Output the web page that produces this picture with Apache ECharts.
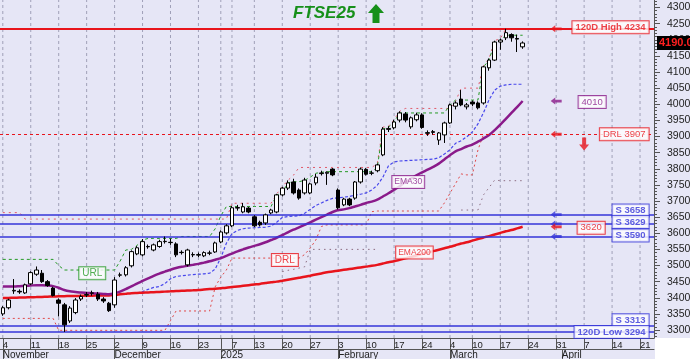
<!DOCTYPE html>
<html>
<head>
<meta charset="utf-8">
<script src="https://cdn.jsdelivr.net/npm/echarts@6.0.0/dist/echarts.min.js"></script>
<style>
html,body{margin:0;padding:0;background:#ffffff;}
#chart{width:690px;height:359px;}
</style>
</head>
<body>
<div id="chart"></div>
<script>
// ---------------- DATA ----------------
const dates = [
'2024-11-04','2024-11-05','2024-11-06','2024-11-07','2024-11-08',
'2024-11-11','2024-11-12','2024-11-13','2024-11-14','2024-11-15',
'2024-11-18','2024-11-19','2024-11-20','2024-11-21','2024-11-22',
'2024-11-25','2024-11-26','2024-11-27','2024-11-28','2024-11-29',
'2024-12-02','2024-12-03','2024-12-04','2024-12-05','2024-12-06',
'2024-12-09','2024-12-10','2024-12-11','2024-12-12','2024-12-13',
'2024-12-16','2024-12-17','2024-12-18','2024-12-19','2024-12-20',
'2024-12-23','2024-12-24','2024-12-27','2024-12-30',
'2025-01-02','2025-01-03',
'2025-01-07','2025-01-08','2025-01-09','2025-01-10',
'2025-01-13','2025-01-14','2025-01-15','2025-01-16','2025-01-17',
'2025-01-20','2025-01-21','2025-01-22','2025-01-23','2025-01-24',
'2025-01-27','2025-01-28','2025-01-29','2025-01-30','2025-01-31',
'2025-02-03','2025-02-04','2025-02-05','2025-02-06','2025-02-07',
'2025-02-10','2025-02-11','2025-02-12','2025-02-13','2025-02-14',
'2025-02-17','2025-02-18','2025-02-19','2025-02-20','2025-02-21',
'2025-02-24','2025-02-25','2025-02-26','2025-02-27','2025-02-28',
'2025-03-04','2025-03-05','2025-03-06','2025-03-07',
'2025-03-10','2025-03-11','2025-03-12','2025-03-13','2025-03-14',
'2025-03-17','2025-03-18','2025-03-19','2025-03-20','2025-03-21',
'2025-03-24','2025-03-25','2025-03-26','2025-03-27','2025-03-28',
'2025-03-31',
'2025-04-01','2025-04-02','2025-04-03','2025-04-04',
'2025-04-07','2025-04-08','2025-04-09','2025-04-10','2025-04-11',
'2025-04-14','2025-04-15','2025-04-16','2025-04-17','2025-04-18',
'2025-04-21','2025-04-22','2025-04-23'
];

// [open, close, low, high]
const ohlc = [
[3350,3369,3344,3374],[3369,3393,3364,3397],[3421,3423,3412,3458],[3420,3418,3412,3426],[3415,3440,3412,3444],
[3443,3478,3439,3482],[3473,3486,3468,3497],[3476,3450,3446,3486],[3450,3438,3434,3455],[3430,3407,3404,3434],
[3393,3383,3342,3398],[3378,3316,3294,3384],[3328,3368,3322,3374],[3354,3393,3349,3399],[3396,3404,3390,3410],
[3408,3410,3402,3418],[3415,3414,3406,3422],[3411,3396,3390,3418],[3396,3390,3384,3402],[3383,3360,3356,3387],
[3378,3455,3369,3464],[3470,3471,3464,3478],[3471,3493,3466,3498],[3499,3543,3494,3547],[3536,3555,3532,3560],
[3533,3574,3528,3582],[3559,3558,3552,3565],[3548,3564,3544,3568],[3559,3574,3555,3580],[3574,3575,3568,3590],
[3572,3571,3564,3584],[3567,3533,3526,3572],[3541,3540,3534,3547],[3502,3548,3497,3552],[3534,3533,3526,3541],
[3532,3534,3526,3540],[3530,3540,3526,3544],[3538,3539,3532,3546],[3542,3570,3539,3574],
[3573,3604,3569,3609],[3601,3623,3596,3628],
[3623,3679,3619,3684],[3678,3680,3670,3688],[3666,3682,3662,3694],[3678,3666,3662,3682],
[3651,3623,3619,3656],[3634,3626,3621,3639],[3632,3657,3626,3661],[3663,3672,3659,3676],[3666,3719,3662,3722],
[3719,3740,3714,3744],[3740,3756,3734,3764],[3759,3725,3720,3769],[3734,3709,3704,3739],[3725,3765,3720,3772],
[3725,3753,3721,3757],[3756,3774,3749,3784],[3785,3787,3779,3794],[3786,3789,3750,3792],[3799,3781,3777,3802],
[3734,3679,3674,3739],[3688,3706,3684,3710],[3706,3688,3684,3710],[3709,3759,3704,3762],[3759,3799,3754,3804],
[3798,3783,3779,3802],[3786,3787,3780,3794],[3794,3812,3789,3816],[3843,3923,3839,3929],[3922,3925,3914,3932],
[3927,3945,3922,3952],[3951,3973,3944,3978],[3970,3951,3944,3976],[3930,3958,3924,3962],[3952,3967,3947,3974],
[3967,3928,3924,3972],[3912,3910,3902,3919],[3915,3913,3906,3920],[3889,3911,3874,3914],[3905,3942,3880,3946],
[3942,3998,3939,4002],[3994,4004,3984,4009],[4016,3998,3994,4044],[3992,3998,3984,4004],
[4007,4001,3994,4012],[4004,3989,3984,4009],[4004,4116,3999,4119],[4113,4137,4104,4142],[4137,4193,4134,4197],
[4193,4199,4169,4204],[4206,4222,4199,4234],[4216,4206,4194,4220],[4204,4202,4162,4216],[4178,4190,4172,4195]
];

const ema200 = [
3399,3399.5,3400,3400.5,3401,3401.5,3402,3402.6,3403.2,3403.8,
3404.3,3404.8,3405.3,3405.6,3405.9,3406.2,3406.5,3406.7,3406.9,3407.2,
3408.8,3410.5,3412.2,3414,3414.8,3415.6,3416.4,3417.2,3418,3419,
3419.8,3420.6,3421.4,3422.2,3423,3424,3425.4,3426.8,3428.2,3429.6,
3431,3433,3435,3437,3439,3441,3443,3445.5,3448,3450,
3453,3456,3459,3462,3465,3468.5,3472,3475.5,3479,3481.5,
3484,3486.5,3489,3491.5,3494,3496.5,3499,3502,3506,3510,
3513,3517.5,3522,3526.5,3531,3535.5,3540,3544.5,3549,3553.5,
3558,3563,3568,3572,3577,3582,3587,3591,3596,3601,
3606,3610,3615,3620
];

const ema30 = [
3435,3435,3435,3436,3437,3438,3439,3439,3438,3436,
3431,3424,3420,3418,3416,3415,3414,3413,3412,3411,
3414,3419,3427,3435,3444,3452,3460,3468,3475,3481,
3487,3492,3496,3499,3502,3505,3509,3513,3518,3523,
3530,3537,3544,3550,3556,3561,3566,3572,3579,3586,
3594,3603,3611,3618,3626,3634,3642,3650,3658,3666,
3672,3674,3678,3683,3688,3694,3698,3704,3714,3724,
3735,3746,3759,3769,3780,3789,3797,3806,3816,3829,
3842,3854,3861,3869,3875,3884,3894,3905,3920,3937,
3955,3973,3991,4010
];

// blue dashed trailing line
const trailLine = [
null,null,null,null,null,null,null,null,null,null,
null,null,null,null,null,null,null,null,null,null,
null,null,null,null,3414,3419,3426,3432,3435,3444,
3459,3466,3468,3470,3472,3473,3474,3476,3489,3524,
3569,3599,3609,3614,3616,3617,3618,3619,3622,3634,
3649,3652,3653,3654,3662,3674,3686,3694,3702,3708,
3710,3712,3714,3718,3721,3725,3734,3749,3774,3809,
3821,3824,3825,3826,3827,3828,3829,3830,3834,3846,
3859,3879,3887,3899,3914,3939,3974,4014,4044,4056,
4060,4062,4062,4062
];

// green dotted upper resistance (URL)
const urlLine = [
3519,3519,3519,3519,3519,3519,3519,3519,3519,3519,
3500,3486,3486,3486,3486,3486,3486,3486,3486,3486,
3486,3514,3548,3550,3562,3579,3584,3584,3584,3584,
3584,3584,3590,3590,3590,3590,3590,3590,3614,3654,
3683,3683,3683,3683,3683,3683,3683,3683,3683,3719,
3725,3756,3760,3760,3764,3774,3786,3789,3791,3791,
3791,3791,3791,3791,3791,3791,3791,3804,3923,3929,
3945,3973,3973,3973,3973,3973,3973,3973,3973,3973,
3998,4013,4013,4013,4013,4013,4116,4137,4193,4199,
4214,4214,4214,4214
];

// red dotted upper line (rolling high)
const highLine = [
3664,3664,3664,3664,3644,3644,3644,3644,3644,3644,
3644,3644,3644,3644,3644,3644,3644,3644,3644,3644,
3644,3644,3644,3644,3644,3644,3644,3644,3644,3644,
3644,3644,3644,3644,3644,3644,3644,3644,3644,3644,
3644,3693,3693,3693,3693,3693,3693,3693,3693,3722,
3744,3764,3780,3804,3804,3804,3804,3804,3804,3804,
3804,3804,3804,3804,3804,3804,3804,3816,3929,3932,
3952,3978,3987,3987,3987,3987,3987,3987,3987,3987,
3987,4009,4050,4050,4050,4050,4119,4142,4197,4204,
4234,4234,4234,4234
];

// red dotted downside risk level (DRL)
const drlLine = [
3336,3336,3336,3336,3336,3336,3336,3336,3336,3336,
3299,3299,3299,3299,3299,3299,3299,3299,3299,3299,
3299,3299,3299,3299,3299,3299,3299,3299,3299,3299,
3329,3359,3359,3359,3359,3359,3359,3359,3434,3464,
3486,3523,3523,3523,3523,3523,3523,3523,3523,3523,
3523,3523,3523,3523,3534,3554,3579,3621,3626,3626,
3626,3626,3626,3626,3626,3626,3667,3669,3669,3669,
3669,3669,3669,3669,3669,3669,3669,3669,3669,3694,
3724,3754,3784,3781,3781,3858,3907,null,null,null,
null,null,null,null
];

// grey dotted longer-term downside line
const lowLine2 = [
null,null,null,null,null,null,null,null,null,null,
null,null,null,null,null,null,null,null,null,null,
null,null,null,null,null,null,null,null,null,null,
null,null,null,null,null,null,null,null,null,null,
null,null,null,null,null,null,null,null,null,null,
3481,3485,3488,3492,3496,3550,3550,3550,3550,3550,
3550,3550,3550,3550,3550,3550,3550,3550,null,null,
null,null,null,null,null,null,null,null,null,null,
null,null,3672,3672,3672,3672,3719,3742,3765,3763,
3763,3763,3763,3763
];

// horizontal levels
const levelValues = [4234, 3907, 3658, 3629, 3590, 3313, 3294];
const levelNames  = ['120D High 4234', 'DRL 3907', 'S 3658', 'S 3629', 'S 3590', 'S 3313', '120D Low 3294'];
const lastClose = 4190.0;
const ema30End = 4010;
const ema200End = 3620;

// axis ticks / labels
const yTicks = [3300,3350,3400,3450,3500,3550,3600,3650,3700,3750,3800,3850,3900,3950,4000,4050,4100,4150,4200,4250,4300];
const dayTickIdx  = [0,5,10,15,20,25,30,35,39,41,45,50,55,60,65,70,75,80,84,89,94,99,104,109,114];
const dayTickText = ['4','11','18','25','2','9','16','23','','7','13','20','27','3','10','17','24','4','10','17','24','31','7','14','21'];
const monthTickIdx  = [0,20,39,60,80,100];
const monthTickText = ['November','December','2025','February','March','April'];

// ---------------- CHART ----------------
const FONT = 'Liberation Sans, Arial, sans-serif';
const RED = '#e8141c', BLUE = '#3434d8', PURPLE = '#8a1a8a', GREEN = '#259a25';
const dayMap = {}; dayTickIdx.forEach((v,k)=>dayMap[v]=dayTickText[k]);
const monMap = {}; monthTickIdx.forEach((v,k)=>monMap[v]=monthTickText[k]);
const minorTicks = []; for (let v = 3280; v <= 4320; v += 10) minorTicks.push(v);

const YMIN = 3275.2, YMAX = 4323.3;

function box(color, extra) {
  return Object.assign({
    show: true, color: color, borderColor: color, borderWidth: 1,
    backgroundColor: '#ffffff', padding: [1, 3, 0, 3],
    fontSize: 9.5, fontFamily: FONT, lineHeight: 11
  }, extra || {});
}

const levelStyle = [
  {line: {color: RED, width: 2, type: 'solid'}, color: RED, dy: -1.5, bold: true},
  {line: {color: RED, width: 1, type: [3, 3]}, color: RED, dy: 0, bold: false},
  {line: {color: BLUE, width: 1.5, type: 'solid'}, color: BLUE, dy: -4, bold: true},
  {line: {color: BLUE, width: 1.5, type: 'solid'}, color: BLUE, dy: -2, bold: true},
  {line: {color: BLUE, width: 1.5, type: 'solid'}, color: BLUE, dy: -1, bold: true},
  {line: {color: BLUE, width: 1.5, type: 'solid'}, color: BLUE, dy: -5.5, bold: true},
  {line: {color: BLUE, width: 1.5, type: 'solid'}, color: BLUE, dy: 0, bold: true}
];

const leftArrow = 'path://M0,5L5,0L5,3L12,3L12,7L5,7L5,10Z';
const downArrow = 'path://M3,0L7,0L7,7L10,7L5,13L0,7L3,7Z';

const arrowItems = [
  {value: [99, levelValues[0]], itemStyle: {color: RED}},
  {value: [99, ema30End], itemStyle: {color: PURPLE}},
  {value: [99, levelValues[1]], itemStyle: {color: RED}},
  {value: [99, levelValues[2]], itemStyle: {color: BLUE}},
  {value: [99, levelValues[3]], itemStyle: {color: BLUE}},
  {value: [99, ema200End], itemStyle: {color: RED}},
  {value: [99, levelValues[4]], itemStyle: {color: BLUE}}
];

// weekly dashed grid lines, one short vertical line series per labelled day
const gridSeries = dayTickIdx.map((i) => ({
  type: 'line', data: [[i, YMIN], [i, YMAX]], symbol: 'none', silent: true, z: 0,
  lineStyle: {color: '#a0a0b8', type: [3, 3], width: 1}
}));

const option = {
  animation: false,
  backgroundColor: '#e6e6f6',
  title: {
    text: 'FTSE25', left: 288, top: 0,
    textStyle: {fontSize: 17, fontWeight: 'bold', fontStyle: 'italic', color: '#17901a', fontFamily: FONT}
  },
  graphic: [
    {type: 'rect', shape: {x: 655, y: 338, width: 35, height: 21}, style: {fill: '#ffffff'}, z: 100},
    {type: 'polygon', shape: {points: [[376,4],[384,13],[379.5,13],[379.5,23],[372.5,23],[372.5,13],[368,13]]}, style: {fill: '#17901a'}}
  ],
  grid: {left: 0, right: 36, top: 0, bottom: 21, containLabel: false, outerBoundsMode: 'none'},
  xAxis: [
    {
      type: 'category', data: dates, boundaryGap: true,
      axisLine: {show: true, lineStyle: {color: '#555', width: 1}},
      axisTick: {show: true, alignWithLabel: true, interval: (i) => dayMap[i] !== undefined, length: 11, lineStyle: {color: '#555'}},
      axisLabel: {show: true, interval: (i) => dayMap[i] !== undefined, formatter: (v, i) => dayMap[i] || '', align: 'left', margin: 2, fontSize: 9.5, color: '#222', fontFamily: FONT},
      splitLine: {show: false}
    },
    {
      type: 'category', data: dates, boundaryGap: true, position: 'bottom', offset: 11,
      axisLine: {show: true, lineStyle: {color: '#555', width: 1}},
      axisTick: {show: true, alignWithLabel: true, interval: (i) => monMap[i] !== undefined, length: 10, lineStyle: {color: '#555'}},
      axisLabel: {show: true, interval: (i) => monMap[i] !== undefined, formatter: (v, i) => monMap[i] || '', align: 'left', margin: 1, fontSize: 10, color: '#222', fontFamily: FONT},
      splitLine: {show: false}
    }
  ],
  yAxis: [
    {
      type: 'value', position: 'right', min: YMIN, max: YMAX,
      axisLine: {show: true, lineStyle: {color: '#555'}},
      axisTick: {show: true, customValues: yTicks, length: 6, lineStyle: {color: '#555'}},
      axisLabel: {show: true, customValues: yTicks, formatter: (v) => String(Math.round(v)), margin: 13, fontSize: 10.5, color: '#222', fontFamily: FONT, padding: [4, 0, 0, 0]},
      splitLine: {show: false}
    },
    {
      type: 'value', position: 'right', min: YMIN, max: YMAX,
      axisLine: {show: false},
      axisTick: {show: true, customValues: minorTicks, length: 3, lineStyle: {color: '#555'}},
      axisLabel: {show: false},
      splitLine: {show: false}
    }
  ],
  series: gridSeries.concat([
    {
      type: 'line', data: [], silent: true, z: 2,
      markLine: {
        symbol: 'none', silent: true, animation: false, label: {show: false},
        data: levelValues.map((v, k) => ({yAxis: v, lineStyle: levelStyle[k].line}))
      }
    },
    {name: 'DRL', type: 'line', data: drlLine, symbol: 'none', z: 3, lineStyle: {color: '#e04848', width: 1, type: [2, 3]}},
    {name: 'High', type: 'line', data: highLine, symbol: 'none', z: 3, lineStyle: {color: '#e05a6a', width: 1, type: [2, 4]}},
    {name: 'Low2', type: 'line', data: lowLine2, symbol: 'none', z: 3, lineStyle: {color: '#8c6c80', width: 1, type: [1.5, 4]}},
    {name: 'URL', type: 'line', data: urlLine, symbol: 'none', z: 3, lineStyle: {color: GREEN, width: 1, type: [3, 3]}},
    {name: 'Trail', type: 'line', data: trailLine, symbol: 'none', z: 3, lineStyle: {color: '#4848ec', width: 1.2, type: [3, 2]}},
    {name: 'EMA200', type: 'line', data: ema200, symbol: 'none', z: 4, smooth: 0.3, lineStyle: {color: RED, width: 2.5}},
    {name: 'EMA30', type: 'line', data: ema30, symbol: 'none', z: 4, smooth: 0.3, lineStyle: {color: PURPLE, width: 2.5}},
    {
      name: 'FTSE25', type: 'candlestick', data: ohlc, barWidth: 4, z: 6,
      itemStyle: {color: '#ffffff', color0: '#000000', borderColor: '#000000', borderColor0: '#000000', borderWidth: 1}
    },
    {
      type: 'line', data: [], silent: true, z: 30, clip: false,
      markLine: {
        symbol: 'none', silent: true, animation: false,
        lineStyle: {color: 'rgba(0,0,0,0)', width: 1},
        label: {show: true, position: 'end', distance: 3, formatter: lastClose.toFixed(1), backgroundColor: '#000000', color: '#ff2020', fontWeight: 'bold', fontSize: 11, fontFamily: FONT, padding: [2, 2, 1, 2]},
        data: [{yAxis: lastClose}]
      }
    },
    {
      type: 'scatter', symbol: 'circle', symbolSize: 0.1, silent: true, z: 20,
      itemStyle: {color: 'rgba(0,0,0,0)'},
      data: levelValues.map((v, k) => ({
        value: [116, v],
        label: box(levelStyle[k].color, {formatter: levelNames[k], position: 'left', distance: 2.5, offset: [0, levelStyle[k].dy], fontWeight: levelStyle[k].bold ? 'bold' : 'normal'})
      }))
    },
    {
      type: 'scatter', symbol: 'circle', symbolSize: 0.1, silent: true, z: 20,
      itemStyle: {color: 'rgba(0,0,0,0)'},
      data: [
        {value: [103, ema30End], label: box(PURPLE, {formatter: String(ema30End), position: 'right', distance: 0, offset: [0, 1]})},
        {value: [103, ema200End], label: box(RED, {formatter: String(ema200End), position: 'right', distance: -1, offset: [0, 1]})}
      ]
    },
    {
      type: 'scatter', symbol: 'circle', symbolSize: 0.1, silent: true, z: 20,
      itemStyle: {color: 'rgba(0,0,0,0)'},
      data: [
        {value: [16, 3476], label: box(GREEN, {formatter: 'URL', position: 'inside', fontSize: 10})},
        {value: [51, 3517], label: box(RED, {formatter: 'DRL', position: 'inside', offset: [-3, 0], fontSize: 10})},
        {value: [72, 3759], label: box(PURPLE, {formatter: 'EMA30', position: 'inside', offset: [3, 0], fontSize: 8.5, padding: [1, 2, 0, 2]})},
        {value: [74, 3540], label: box(RED, {formatter: 'EMA200', position: 'inside', offset: [-2, 0], fontSize: 8.5, padding: [1, 2, 0, 2]})}
      ]
    },
    {
      type: 'scatter', symbol: leftArrow, symbolSize: [11, 7], silent: true, z: 19,
      data: arrowItems
    },
    {
      type: 'scatter', symbol: downArrow, symbolSize: [10, 13], silent: true, z: 19,
      itemStyle: {color: RED},
      data: [[104, 3877]]
    }
  ])
};

const chart = echarts.init(document.getElementById('chart'), null, {renderer: 'canvas', width: 690, height: 359});
chart.setOption(option);
</script>
</body>
</html>
